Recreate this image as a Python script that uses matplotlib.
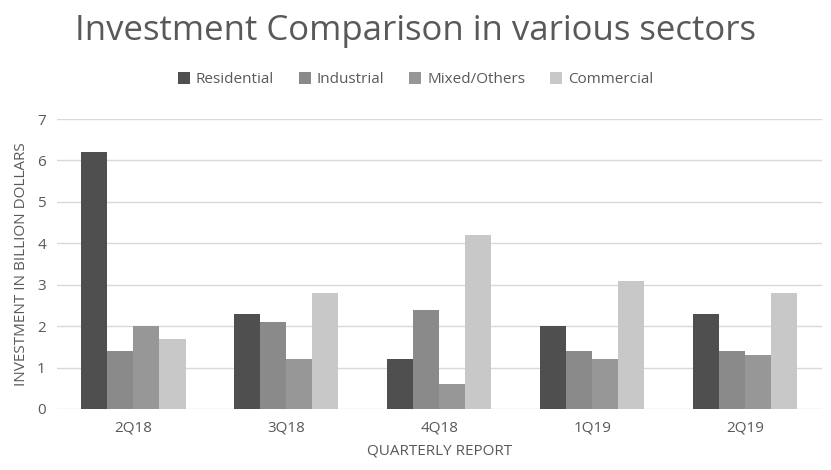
import numpy as np
import matplotlib
matplotlib.use("Agg")
import matplotlib.pyplot as plt

quarters = ["2Q18", "3Q18", "4Q18", "1Q19", "2Q19"]
series = ["Residential", "Industrial", "Mixed/Others", "Commercial"]
residential = [6.2, 2.3, 1.2, 2.0, 2.3]
industrial = [1.4, 2.1, 2.4, 1.4, 1.4]
mixed = [2.0, 1.2, 0.6, 1.2, 1.3]
commercial = [1.7, 2.8, 4.2, 3.1, 2.8]
colors = ["#4f4f4f", "#8a8a8a", "#979797", "#c8c8c8"]

plt.rcParams["font.family"] = ["Open Sans", "DejaVu Sans"]
txt = "#595959"

fig = plt.figure(figsize=(8.31, 4.70), dpi=100)
ax = fig.add_axes([0.0686, 0.1298, 0.9204, 0.617])

x = np.arange(len(quarters))
w = 0.17
for i, (name, vals) in enumerate(zip(series, [residential, industrial, mixed, commercial])):
    ax.bar(x + (i - 1.5) * w, vals, w, color=colors[i], label=name, zorder=3)

ax.set_xlim(-0.5, len(quarters) - 0.5)
ax.set_ylim(0, 7)
ax.set_yticks(range(0, 8))
ax.set_xticks(x)
ax.set_xticklabels(quarters)
ax.grid(axis="y", color="#d9d9d9", linewidth=1, zorder=0)
for s in ax.spines.values():
    s.set_visible(False)
ax.tick_params(length=0, labelsize=11, colors=txt, pad=8)
ax.set_xlabel("QUARTERLY REPORT", fontsize=11, color=txt, labelpad=6)
ax.set_ylabel("INVESTMENT IN BILLION DOLLARS", fontsize=11, color=txt, labelpad=6)

fig.text(0.5, 0.935, "Investment Comparison in various sectors", ha="center", va="center",
         fontsize=25, color=txt)
fig.legend(loc="center", bbox_to_anchor=(0.5, 0.83), ncol=4, frameon=False,
           fontsize=11, labelcolor=txt, handlelength=0.8, handleheight=0.8,
           columnspacing=1.6, handletextpad=0.4)

fig.savefig("out.png", dpi=100)
